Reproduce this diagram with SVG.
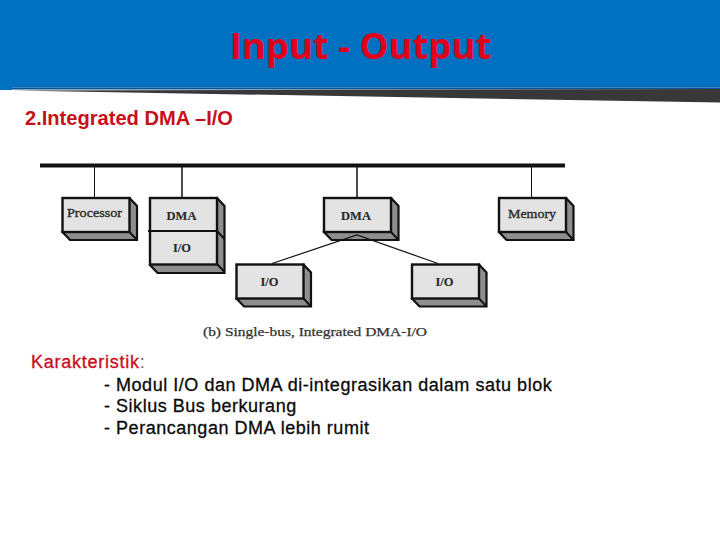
<svg xmlns="http://www.w3.org/2000/svg" width="720" height="540" viewBox="0 0 720 540">
<style>
.sans{font-family:"Liberation Sans",Arial,sans-serif}
.lbl{font-family:"Liberation Serif","Times New Roman",serif;font-size:12.500px;font-weight:bold;fill:#2a2a2a;text-anchor:middle;stroke:#2a2a2a;stroke-width:.15}
.thin{font-size:13px;font-weight:normal;stroke-width:.35}
.front{fill:#e3e3e3;stroke:#111;stroke-width:2.400}
.side{fill:#8e8e8e;stroke:#111;stroke-width:2.200}
.body{font-size:18px;fill:#0a0a0a;stroke:#0a0a0a;stroke-width:.3;letter-spacing:.53px}
.wire{stroke:#111;fill:none}
</style>
<defs>
<g id="box3d">
<path class="side" d="M67 0l7.500 8v34h-67l-7.500-8z"/>
<path class="wire" stroke-width="2" d="M67 34l7.500 8"/>
<rect class="front" width="67" height="34"/>
</g>
</defs>
<g id="header">
<rect width="720" height="87.500" fill="#0070c0"/>
<path d="M0 87.500H720V89.500H0z" fill="#0b5394"/>
<path d="M12 90.500L720 89V102.500z" fill="#383838"/>
<path d="M0 87H12V90H0z" fill="#0070c0"/>
</g>
<text id="title" x="360.500" y="59" text-anchor="middle" style="font-family:'Open Sans','Liberation Sans',sans-serif;font-weight:700;font-size:36.500px" fill="#e0001b">Input - Output</text>
<text id="heading" class="sans" x="25" y="125" font-size="20" font-weight="bold" fill="#c8101c" textLength="208" lengthAdjust="spacingAndGlyphs">2.Integrated DMA –I/O</text>
<g id="processor"><use href="#box3d" x="62.500" y="198"/><text class="lbl thin" x="94.500" y="217" textLength="55" lengthAdjust="spacingAndGlyphs">Processor</text></g>
<g id="dma-io">
<path class="side" d="M217 198l7.500 8v67h-67l-7.500-8z"/>
<path class="wire" stroke-width="2" d="M217 231l7.500 8M217 264l7.500 8"/>
<rect class="front" x="150" y="198" width="67" height="66.500"/>
<path class="wire" stroke-width="2" d="M148 231H217"/>
<text class="lbl" x="181.500" y="220">DMA</text>
<text class="lbl" x="182" y="252">I/O</text>
</g>
<g id="dma"><use href="#box3d" x="324" y="198"/><text class="lbl" x="356" y="220">DMA</text></g>
<g id="memory"><use href="#box3d" x="499" y="198"/><text class="lbl thin" x="532" y="218" textLength="48" lengthAdjust="spacingAndGlyphs">Memory</text></g>
<g id="io-left"><use href="#box3d" x="236.500" y="264.500"/><text class="lbl" x="269.500" y="286">I/O</text></g>
<g id="io-right"><use href="#box3d" x="412" y="264.500"/><text class="lbl" x="444.500" y="286">I/O</text></g>
<g id="connectors">
<path class="wire" stroke-width="4" d="M40 165.500H565"/>
<path class="wire" stroke-width="1" d="M94.500 167V197"/>
<path class="wire" stroke-width="1.500" d="M182 167V197"/>
<path class="wire" stroke-width="1.500" d="M357 167V197"/>
<path class="wire" stroke-width="1" d="M531.500 167V197"/>
<path class="wire" stroke-width="1.200" d="M272 263.500L357 235L438 263.500"/>
</g>
<text id="caption" x="203" y="336" textLength="224" lengthAdjust="spacingAndGlyphs" style="font-family:'Liberation Serif',serif;font-size:12.500px;fill:#333;stroke:#333;stroke-width:.25">(b) Single-bus, Integrated DMA-I/O</text>
<g id="notes" class="sans">
<text x="31" y="368" font-size="18" fill="#c8101c" stroke="#c8101c" stroke-width=".35" letter-spacing=".75">Karakteristik<tspan fill="#666" stroke="none">:</tspan></text>
<text class="body" x="104" y="391">- Modul I/O dan DMA di-integrasikan dalam satu blok</text>
<text class="body" x="104" y="412">- Siklus Bus berkurang</text>
<text class="body" x="104" y="434">- Perancangan DMA lebih rumit</text>
</g>
</svg>
